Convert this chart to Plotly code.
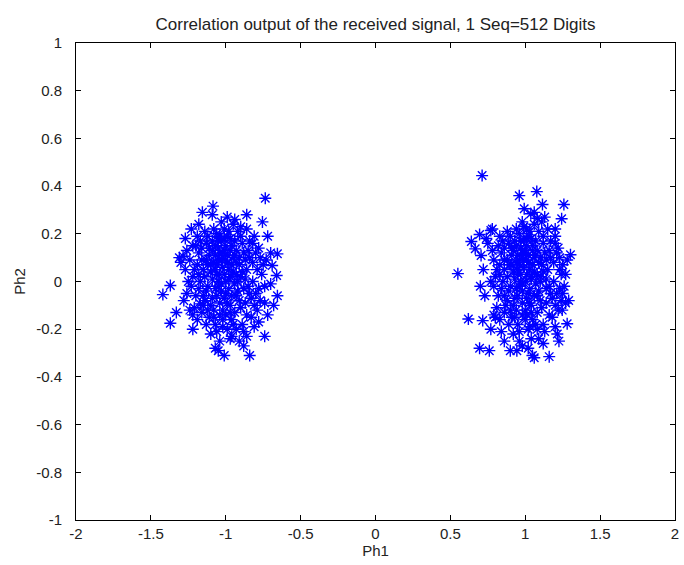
import plotly.graph_objects as go

title_text = "Correlation output of the received signal, 1 Seq=512 Digits"
x_label = "Ph1"
y_label = "Ph2"
x_ticks = [-2, -1.5, -1, -0.5, 0, 0.5, 1, 1.5, 2]
x_tick_text = ["-2", "-1.5", "-1", "-0.5", "0", "0.5", "1", "1.5", "2"]
y_ticks = [-1, -0.8, -0.6, -0.4, -0.2, 0, 0.2, 0.4, 0.6, 0.8, 1]
y_tick_text = ["-1", "-0.8", "-0.6", "-0.4", "-0.2", "0", "0.2", "0.4", "0.6", "0.8", "1"]

# left cluster (symbol -1)
left_outer = [
    (-0.736, 0.349), (-1.085, 0.316), (-1.156, 0.29), (-1.09, 0.28), (-0.99, 0.27),
    (-0.94, 0.26), (-0.86, 0.28), (-0.755, 0.25), (-0.72, 0.19), (-0.90, 0.23),
    (-1.04, 0.19), (-1.22, 0.15), (-1.31, 0.10), (-1.285, 0.106), (-0.655, 0.116),
    (-0.69, 0.067), (-1.42, -0.055), (-1.37, -0.017), (-1.37, -0.175), (-1.22, -0.20),
    (-1.24, -0.12), (-1.17, -0.094), (-0.74, -0.23), (-0.86, -0.23), (-0.84, -0.31),
    (-1.01, -0.31), (-1.07, -0.28), (-1.04, -0.25), (-0.91, -0.25), (-0.96, -0.23),
    (-0.655, -0.06), (-0.70, -0.01), (-0.78, -0.17), (-0.66, 0.025), (-1.30, 0.08),
    (-1.26, -0.05), (-0.68, -0.10), (-1.33, -0.13), (-1.27, 0.05), (-1.28, -0.08),
    (-1.05, -0.29), (-0.88, -0.27), (-0.72, -0.14), (-0.70, 0.12), (-1.18, 0.24),
]
left_core = [
    (-1.00, 0.00), (-0.98, 0.05), (-1.03, -0.04), (-0.95, 0.10), (-1.08, 0.08),
    (-1.12, -0.02), (-0.90, 0.02), (-0.93, -0.06), (-1.05, 0.14), (-1.10, -0.10),
    (-0.97, 0.18), (-1.15, 0.05), (-0.88, 0.12), (-0.85, -0.02), (-1.02, -0.12),
    (-0.96, -0.16), (-1.07, -0.18), (-1.18, 0.12), (-1.20, -0.06), (-0.82, 0.08),
    (-0.99, 0.11), (-1.04, 0.03), (-0.94, -0.01), (-1.01, -0.07), (-1.09, 0.01),
    (-0.91, 0.07), (-0.87, -0.09), (-1.13, 0.16), (-1.16, -0.13), (-0.80, -0.05),
    (-0.78, 0.14), (-1.22, 0.02), (-1.06, 0.20), (-0.92, 0.21), (-1.11, -0.15),
    (-0.99, -0.20), (-0.89, -0.18), (-0.84, 0.17), (-1.19, 0.19), (-1.24, 0.09),
    (-0.76, 0.03), (-0.79, -0.12), (-1.14, -0.08), (-1.03, 0.09), (-0.97, -0.10),
    (-1.05, -0.02), (-0.95, 0.04), (-1.00, 0.15), (-1.08, -0.12), (-0.93, 0.13),
    (-1.02, 0.06), (-1.06, -0.06), (-0.98, -0.03), (-1.11, 0.11), (-0.86, 0.05),
    (-0.83, -0.07), (-1.17, 0.00), (-1.13, -0.04), (-0.94, 0.17), (-1.01, 0.22),
    (-1.09, 0.17), (-1.14, 0.21), (-0.81, 0.19), (-0.77, 0.10), (-0.74, -0.02),
    (-0.75, 0.07), (-1.21, -0.11), (-1.23, -0.02), (-1.19, 0.07), (-1.26, 0.13),
    (-0.99, 0.08), (-1.04, 0.12), (-0.96, 0.07), (-0.92, -0.04), (-0.90, -0.11),
    (-1.07, 0.05), (-1.10, 0.04), (-1.12, 0.07), (-1.02, -0.16), (-0.94, -0.13),
    (-1.06, -0.21), (-1.13, -0.18), (-0.97, -0.24), (-0.88, -0.21), (-0.83, -0.15),
    (-0.82, 0.00), (-0.87, 0.09), (-0.89, 0.16), (-1.00, -0.05), (-1.03, 0.17),
    (-1.16, 0.09), (-1.18, -0.03), (-1.15, -0.10), (-1.20, 0.15), (-1.08, 0.22),
    (-0.95, 0.24), (-1.03, 0.25), (-0.98, 0.21), (-0.86, 0.22), (-0.80, 0.12),
    (-0.77, -0.08), (-0.81, -0.19), (-0.93, -0.20), (-1.09, -0.07), (-1.05, 0.00),
    (-0.98, 0.01), (-1.01, 0.03), (-0.96, -0.06), (-1.04, -0.09), (-1.11, 0.14),
    (-1.07, 0.11), (-0.91, 0.10), (-0.89, 0.04), (-0.85, 0.13), (-0.84, -0.05),
    (-1.17, 0.17), (-1.21, 0.05), (-1.25, 0.00), (-1.19, -0.16), (-1.10, -0.22),
    (-1.00, -0.14), (-0.97, 0.13), (-0.93, 0.08), (-1.06, 0.07), (-1.12, 0.19),
    (-0.99, -0.09), (-1.02, 0.12), (-1.07, -0.03), (-1.14, 0.02), (-0.92, 0.00),
    (-0.88, -0.03), (-0.90, 0.19), (-1.05, 0.17), (-1.16, 0.14), (-1.12, -0.12),
    (-1.04, -0.14), (-0.95, -0.18), (-0.86, -0.14), (-0.79, 0.05), (-0.82, 0.16),
    (-0.73, 0.09), (-0.74, -0.09), (-1.22, -0.14), (-1.27, 0.18), (-1.23, 0.22),
    (-1.01, 0.18), (-0.97, 0.02), (-1.03, -0.01), (-1.08, -0.15), (-0.94, 0.11),
    (-1.13, 0.09), (-0.91, -0.08), (-0.87, 0.01), (-1.00, 0.09), (-1.06, 0.03),
    (-0.99, 0.19), (-1.09, 0.13), (-1.15, -0.06), (-1.18, 0.03), (-0.84, 0.10),
    (-0.81, -0.10), (-0.78, -0.03), (-0.96, 0.15), (-1.05, 0.09), (-1.02, -0.19),
    (-1.10, 0.07), (-1.07, 0.15), (-0.93, 0.03), (-0.97, -0.13), (-1.01, 0.13),
]

# right cluster (symbol +1)
right_outer = [
    (0.712, 0.444), (0.96, 0.36), (1.077, 0.377), (1.115, 0.323), (1.258, 0.323),
    (1.243, 0.263), (0.993, 0.305), (1.037, 0.284), (1.08, 0.265), (0.77, 0.214),
    (0.695, 0.197), (0.64, 0.168), (0.666, 0.137), (0.705, 0.109), (1.302, 0.112),
    (0.55, 0.033), (0.62, -0.157), (0.716, -0.164), (0.80, -0.15), (0.695, -0.28),
    (0.76, -0.29), (0.90, -0.29), (0.944, -0.29), (1.048, -0.31), (1.06, -0.32),
    (1.16, -0.315), (1.28, -0.177), (1.214, -0.22), (1.225, -0.25), (1.247, -0.12),
    (0.77, -0.20), (0.84, -0.21), (0.96, -0.25), (0.98, -0.27), (0.73, -0.06),
    (1.27, 0.03), (1.25, -0.05), (0.72, 0.05), (0.70, -0.02), (1.20, 0.22),
    (1.02, -0.28), (1.12, -0.26), (0.86, -0.25), (0.75, 0.16), (1.29, -0.08),
]
right_core = [
    (1.00, 0.00), (1.03, 0.05), (0.98, -0.04), (1.06, 0.10), (0.94, 0.08),
    (0.90, -0.02), (1.10, 0.02), (1.08, -0.06), (0.97, 0.14), (0.92, -0.10),
    (1.04, 0.18), (0.86, 0.05), (1.13, 0.12), (1.16, -0.02), (1.00, -0.12),
    (1.05, -0.16), (0.95, -0.18), (0.84, 0.12), (0.82, -0.06), (1.19, 0.08),
    (1.02, 0.11), (0.97, 0.03), (1.07, -0.01), (1.01, -0.07), (0.93, 0.01),
    (1.11, 0.07), (1.14, -0.09), (0.89, 0.16), (0.86, -0.13), (1.21, -0.05),
    (1.22, 0.14), (0.80, 0.02), (0.96, 0.20), (1.09, 0.21), (0.91, -0.15),
    (1.02, -0.20), (1.12, -0.18), (1.17, 0.17), (0.83, 0.19), (0.79, 0.09),
    (1.24, 0.03), (1.22, -0.12), (0.88, -0.08), (0.99, 0.09), (1.04, -0.10),
    (0.96, -0.02), (1.06, 0.04), (1.01, 0.15), (0.94, -0.12), (1.08, 0.13),
    (0.99, 0.06), (0.95, -0.06), (1.03, -0.03), (0.91, 0.11), (1.15, 0.05),
    (1.18, -0.07), (0.85, 0.00), (0.89, -0.04), (1.07, 0.17), (1.01, 0.22),
    (0.93, 0.17), (0.88, 0.21), (1.20, 0.19), (1.23, 0.10), (1.26, -0.02),
    (1.25, 0.07), (0.81, -0.11), (0.79, -0.02), (0.83, 0.07), (0.78, 0.13),
    (1.02, 0.08), (0.98, 0.12), (1.05, 0.07), (1.09, -0.04), (1.11, -0.11),
    (0.95, 0.05), (0.92, 0.04), (0.90, 0.07), (1.00, -0.16), (1.08, -0.13),
    (0.96, -0.21), (0.89, -0.18), (1.04, -0.24), (1.13, -0.21), (1.18, -0.15),
    (1.19, 0.00), (1.14, 0.09), (1.12, 0.16), (1.02, -0.05), (0.99, 0.17),
    (0.86, 0.09), (0.84, -0.03), (0.87, -0.10), (0.82, 0.15), (0.94, 0.22),
    (1.06, 0.24), (0.98, 0.25), (1.03, 0.21), (1.15, 0.22), (1.21, 0.12),
    (1.24, -0.08), (1.20, -0.19), (1.08, -0.20), (0.93, -0.07), (0.97, 0.00),
    (1.04, 0.01), (1.01, 0.03), (1.06, -0.06), (0.98, -0.09), (0.91, 0.14),
    (0.95, 0.11), (1.10, 0.10), (1.12, 0.04), (1.16, 0.13), (1.17, -0.05),
    (0.85, 0.17), (0.81, 0.05), (0.77, 0.00), (0.83, -0.16), (0.92, -0.22),
    (1.01, -0.14), (1.05, 0.13), (1.09, 0.08), (0.96, 0.07), (0.90, 0.19),
    (1.03, -0.09), (1.00, 0.12), (0.94, -0.03), (0.88, 0.02), (1.10, 0.00),
    (1.14, -0.03), (1.12, 0.19), (0.97, 0.17), (0.86, 0.14), (0.90, -0.12),
    (0.98, -0.14), (1.07, -0.18), (1.16, -0.14), (1.23, 0.05), (1.20, 0.16),
    (1.28, 0.09), (1.27, -0.09), (0.79, -0.14), (0.74, 0.18), (0.78, 0.22),
    (1.01, 0.18), (1.04, 0.02), (0.98, -0.01), (0.93, -0.15), (1.07, 0.11),
    (0.88, 0.09), (1.10, -0.08), (1.14, 0.01), (1.01, 0.09), (0.95, 0.03),
    (1.02, 0.19), (0.92, 0.13), (0.86, -0.06), (0.83, 0.03), (1.17, 0.10),
    (1.20, -0.10), (1.23, -0.03), (1.05, 0.15), (0.96, 0.09), (1.03, -0.19),
    (0.91, 0.07), (0.94, 0.15), (1.08, 0.03), (1.04, -0.13), (1.00, 0.13),
    (1.11, 0.25), (1.06, 0.29), (0.99, 0.23), (1.13, 0.27), (1.09, -0.24),
]

left_x = [p[0] for p in left_outer + left_core]
left_y = [p[1] for p in left_outer + left_core]
right_x = [p[0] for p in right_outer + right_core]
right_y = [p[1] for p in right_outer + right_core]

all_x = left_x + right_x
all_y = left_y + right_y

fig = go.Figure()
fig.add_trace(go.Scatter(
    x=all_x, y=all_y, mode="markers",
    marker=dict(symbol="asterisk-open", size=10, color="#0000ff",
                line=dict(color="#0000ff", width=1.4)),
    showlegend=False, hoverinfo="skip",
))

fam = "Liberation Sans, Arial, sans-serif"
tick_font = dict(family=fam, size=15, color="#222222")

fig.update_layout(
    width=684, height=565,
    margin=dict(l=76, r=5, t=43, b=45),
    paper_bgcolor="white", plot_bgcolor="white",
    font=dict(family=fam, size=15, color="#222222"),
    title=dict(text=title_text, x=0.5, xanchor="center", xref="paper",
               y=0.957, yref="container", yanchor="middle",
               font=dict(family=fam, size=17, color="#222222")),
    showlegend=False,
)

fig.update_xaxes(
    range=[-2, 2], tickvals=x_ticks, ticktext=x_tick_text,
    ticks="inside", ticklen=5, tickwidth=1, tickcolor="black",
    showline=True, linecolor="black", linewidth=1, mirror="ticks",
    showgrid=False, zeroline=False,
    title=dict(text=x_label, standoff=2, font=dict(family=fam, size=15, color="#222222")),
    tickfont=tick_font,
)
fig.update_yaxes(
    range=[-1, 1], tickvals=y_ticks, ticktext=y_tick_text,
    ticks="inside", ticklen=5, tickwidth=1, tickcolor="black",
    showline=True, linecolor="black", linewidth=1, mirror="ticks",
    showgrid=False, zeroline=False, ticklabelstandoff=10,
    title=dict(text=y_label, standoff=6, font=dict(family=fam, size=15, color="#222222")),
    tickfont=tick_font,
)

fig.write_html("out.html")
